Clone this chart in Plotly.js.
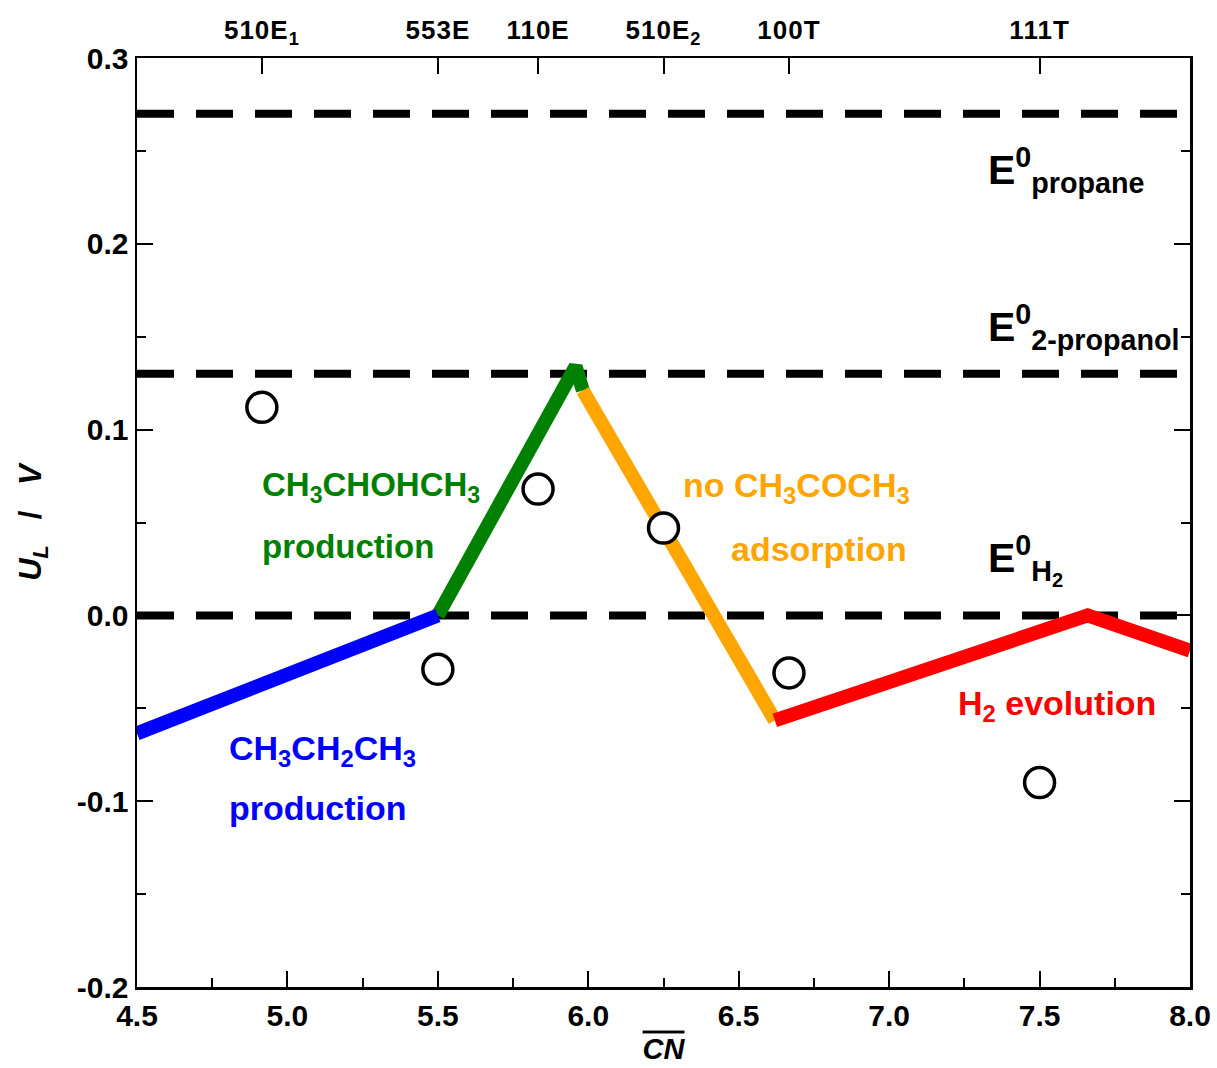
<!DOCTYPE html>
<html>
<head>
<meta charset="utf-8">
<script src="https://cdn.plot.ly/plotly-3.0.1.min.js"></script>
<style>html,body{margin:0;padding:0;background:#fff;}#chart{width:1217px;height:1068px;}</style>
</head>
<body>
<div id="chart"></div>
<script>
// ---- data ----
var surfacePos = [4.915, 5.5, 5.833, 6.25, 6.667, 7.5];
var surfaceLabels = ['510E<sub>1</sub>', '553E', '110E', '510E<sub>2</sub>', '100T', '111T'];
var limitingPotential = [0.112, -0.029, 0.068, 0.047, -0.031, -0.090];

var propaneX = [4.5, 5.5];
var propaneY = [-0.0635, 0.0];
var propanolX = [5.5, 5.958, 5.982];
var propanolY = [0.0, 0.134, 0.121];
var acetoneX = [5.982, 6.62];
var acetoneY = [0.121, -0.0565];
var h2X = [6.62, 7.66, 8.0];
var h2Y = [-0.0565, 0.0, -0.019];

var eqPotentials = [0.27, 0.13, 0.0];
var eqLabels = ['E<sup>0</sup><sub>propane</sub>', 'E<sup>0</sup><sub>2-propanol</sub>', 'E<sup>0</sup><sub>H<sub>2</sub></sub>'];

var xTickVals = [4.5, 5.0, 5.5, 6.0, 6.5, 7.0, 7.5, 8.0];
var xTickText = ['4.5', '5.0', '5.5', '6.0', '6.5', '7.0', '7.5', '8.0'];
var yTickVals = [-0.2, -0.1, 0.0, 0.1, 0.2, 0.3];
var yTickText = ['-0.2', '-0.1', '0.0', '0.1', '0.2', '0.3'];
var xRange = [4.5, 8.0];
var yRange = [-0.2, 0.3];

// ---- styling ----
var SANS = "'Liberation Sans', Arial, Helvetica, sans-serif";

var traces = [];
eqPotentials.forEach(function (v) {
  traces.push({
    x: xRange, y: [v, v], mode: 'lines', type: 'scatter', hoverinfo: 'skip',
    line: {color: '#000', width: 8, dash: '37px,22px'}, showlegend: false
  });
});
function seg(x, y, c) {
  return {x: x, y: y, mode: 'lines', type: 'scatter', hoverinfo: 'skip', showlegend: false,
    line: {color: c, width: 14, simplify: false}};
}
traces.push(seg(propanolX, propanolY, '#008000'));
traces.push(seg(propaneX, propaneY, '#0000ff'));
traces.push(seg(acetoneX, acetoneY, '#ffa500'));
traces.push(seg(h2X, h2Y, '#ff0000'));
traces.push({
  x: surfacePos, y: limitingPotential, xaxis: 'x2', mode: 'markers', type: 'scatter', showlegend: false,
  marker: {symbol: 'circle', size: 30, color: '#ffffff', line: {color: '#000', width: 3.5}}
});

function px2x(p) { return 4.5 + (p - 137) / 300.9; }
function px2y(p) { return (615 - p) / 1858; }

function ann(text, xp, yp, color, size) {
  return {text: text, x: px2x(xp), y: px2y(yp), xref: 'x', yref: 'y', showarrow: false,
    xanchor: 'left', yanchor: 'middle',
    font: {family: SANS, size: size, color: color, weight: 'bold'}};
}
var annotations = [
  ann('CH<sub>3</sub>CHOHCH<sub>3</sub>', 260, 487, '#008000', 33),
  ann('production', 260, 546, '#008000', 33),
  ann('no CH<sub>3</sub>COCH<sub>3</sub>', 681, 487, '#ffa500', 34),
  ann('adsorption', 729, 549, '#ffa500', 34),
  ann('CH<sub>3</sub>CH<sub>2</sub>CH<sub>3</sub>', 227, 750, '#0000ff', 34),
  ann('production', 227, 808, '#0000ff', 34),
  ann('H<sub>2</sub> evolution', 956, 705, '#ff0000', 34),
  ann(eqLabels[0], 986, 170, '#000', 41),
  ann(eqLabels[1], 986, 327, '#000', 41),
  ann(eqLabels[2], 986, 560, '#000', 41)
];

var topText = surfaceLabels.map(function (s) {
  return '<span style="letter-spacing:1px">' + s + '</span>';
});

var layout = {
  width: 1217, height: 1068,
  margin: {l: 137, r: 27, t: 58, b: 81},
  paper_bgcolor: '#fff', plot_bgcolor: '#fff',
  showlegend: false,
  xaxis: {
    range: xRange, tickmode: 'array', tickvals: xTickVals, ticktext: xTickText,
    ticks: 'inside', ticklen: 16, tickwidth: 2, tickcolor: '#000',
    minor: {dtick: 0.25, tick0: 4.5, ticks: 'inside', ticklen: 9, tickwidth: 2, tickcolor: '#000'},
    showline: true, linewidth: 2.5, linecolor: '#000', mirror: false,
    showgrid: false, zeroline: false,
    tickfont: {family: SANS, size: 30, color: '#000', weight: 'bold'},
    title: {text: '<span style="text-decoration:overline"><i>CN</i></span>',
      font: {family: SANS, size: 29, color: '#000', weight: 'bold'}, standoff: 8}
  },
  xaxis2: {
    range: xRange, overlaying: 'x', side: 'top', tickmode: 'array',
    tickvals: surfacePos, ticktext: topText,
    ticks: 'inside', ticklen: 16, tickwidth: 2, tickcolor: '#000',
    ticklabelstandoff: 6,
    showline: true, linewidth: 2.5, linecolor: '#000',
    showgrid: false, zeroline: false,
    tickfont: {family: SANS, size: 26, color: '#000', weight: 'bold'}
  },
  yaxis: {
    range: yRange, tickmode: 'array', tickvals: yTickVals, ticktext: yTickText,
    ticks: 'inside', ticklen: 16, tickwidth: 2, tickcolor: '#000',
    minor: {dtick: 0.05, tick0: -0.2, ticks: 'inside', ticklen: 9, tickwidth: 2, tickcolor: '#000'},
    showline: true, linewidth: 2.5, linecolor: '#000', mirror: 'ticks',
    showgrid: false, zeroline: false,
    tickfont: {family: SANS, size: 30, color: '#000', weight: 'bold'},
    title: {text: '<i>U<sub>L</sub></i>   /   <i>V</i>',
      font: {family: SANS, size: 31, color: '#000', weight: 'bold'}, standoff: 26}
  },
  annotations: annotations
};

Plotly.newPlot('chart', traces, layout, {displayModeBar: false, staticPlot: true});
</script>
</body>
</html>
